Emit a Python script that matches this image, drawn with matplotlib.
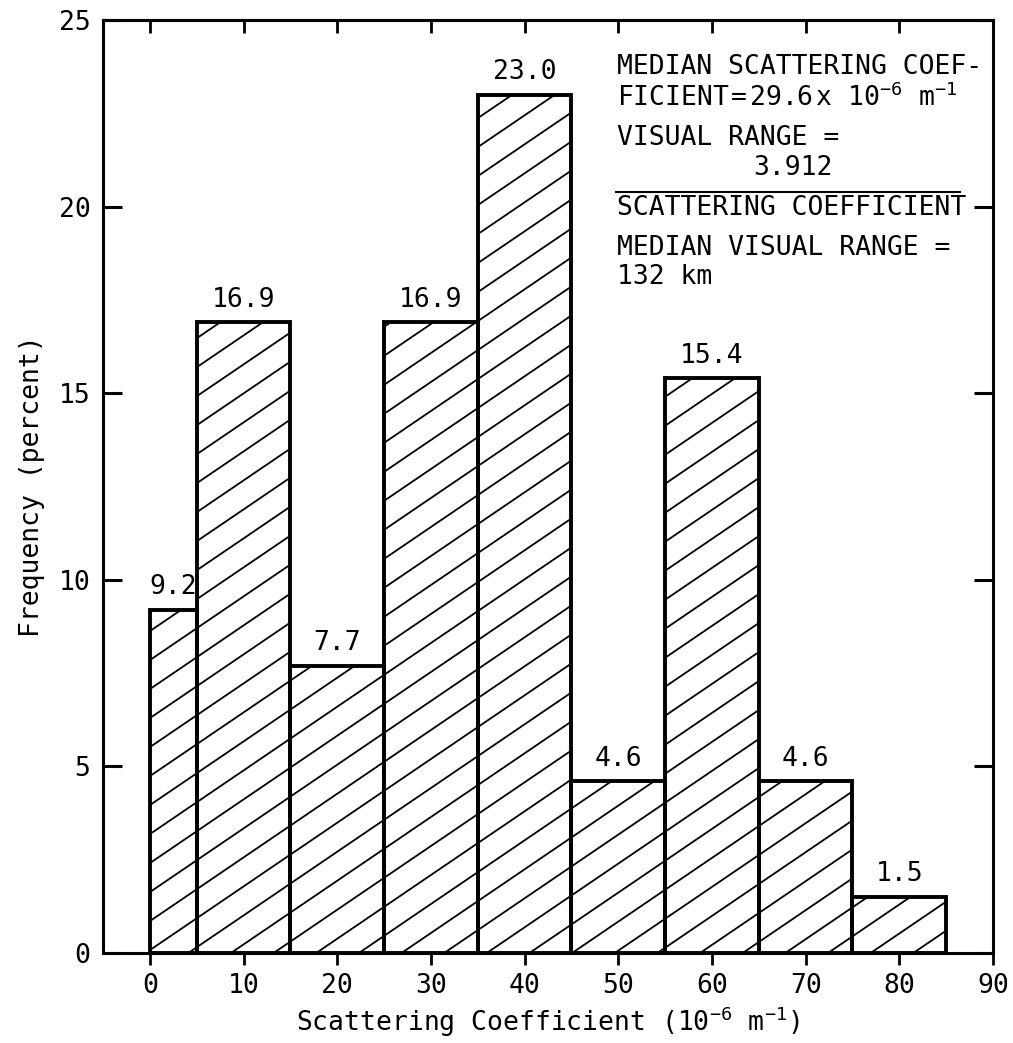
import matplotlib
matplotlib.use('Agg')
import matplotlib.pyplot as plt
from matplotlib.lines import Line2D

# histogram of scattering coefficient (10^-6 m-1)
bin_left = [0, 5, 15, 25, 35, 45, 55, 65, 75]
bin_width = [5, 10, 10, 10, 10, 10, 10, 10, 10]
freq = [9.2, 16.9, 7.7, 16.9, 23.0, 4.6, 15.4, 4.6, 1.5]
freq_labels = ['9.2', '16.9', '7.7', '16.9', '23.0', '4.6', '15.4', '4.6', '1.5']
x_ticks = [0, 10, 20, 30, 40, 50, 60, 70, 80, 90]
y_ticks = [0, 5, 10, 15, 20, 25]

plt.rcParams['font.family'] = 'DejaVu Sans Mono'
plt.rcParams['font.size'] = 19
plt.rcParams['mathtext.fontset'] = 'custom'
plt.rcParams['mathtext.rm'] = 'DejaVu Sans Mono'
plt.rcParams['mathtext.it'] = 'DejaVu Sans Mono'
plt.rcParams['mathtext.bf'] = 'DejaVu Sans Mono'

W, H = 1013, 1043
fig = plt.figure(figsize=(W / 100, H / 100), dpi=100)
ax_l, ax_r, ax_t, ax_b = 103, 993, 20, 953
ax = fig.add_axes([ax_l / W, 1 - ax_b / H, (ax_r - ax_l) / W, (ax_b - ax_t) / H])
ax_w, ax_h = ax_r - ax_l, ax_b - ax_t

bars = ax.bar(bin_left, freq, width=bin_width, align='edge', fill=False,
              edgecolor='black', linewidth=2.8, zorder=3)

# hatching: shallow diagonal lines clipped to each bar
slope = 0.68 * ax_w / ax_h
step = 29 / ax_h
for b in bars:
    for k in range(-60, 60):
        y0 = k * step
        ln = Line2D([0, 1], [y0, y0 + slope], transform=ax.transAxes,
                    color='black', linewidth=1.3, zorder=2)
        ax.add_line(ln)
        ln.set_clip_path(b)

ax.bar_label(bars, labels=freq_labels, padding=7, fontsize=19)

ax.set_xlim(-5, 90)
ax.set_ylim(0, 25)
ax.set_xticks(x_ticks)
ax.set_yticks(y_ticks)
for s in ax.spines.values():
    s.set_linewidth(2.2)
ax.tick_params(axis='x', direction='out', length=8.5, width=2, pad=6, labelsize=19)
ax.tick_params(axis='y', direction='in', length=14, width=2.2, pad=9,
               right=True, labelsize=19)

top = ax.secondary_xaxis('top')
top.set_xticks(x_ticks[:-1])
top.tick_params(direction='in', length=9, width=2, labeltop=False)
top.spines['top'].set_linewidth(2.2)

ax.set_xlabel('Scattering Coefficient (10$^{-6}$ m$^{-1}$)', fontsize=19, labelpad=4)
ax.set_ylabel('Frequency (percent)', fontsize=19, labelpad=10)


def px(x, y):
    return (x - ax_l) / ax_w, (ax_b - y) / ax_h


tx = px(617, 0)[0]
notes = [
    (67, 'MEDIAN SCATTERING COEF-'),
    (98, 'FICIENT$\\,$=$\\,$29.6$\\,$x 10$^{-6}$ m$^{-1}$'),
    (138, 'VISUAL RANGE ='),
    (208, 'SCATTERING COEFFICIENT'),
    (248, 'MEDIAN VISUAL RANGE ='),
    (277, '132 km'),
]
for y, s in notes:
    ax.text(tx, px(0, y)[1], s, transform=ax.transAxes, ha='left', va='center',
            fontsize=19)
ax.text(px(793, 0)[0], px(0, 168)[1], '3.912', transform=ax.transAxes,
        ha='center', va='center', fontsize=19)
ax.plot([px(616, 0)[0], px(960, 0)[0]], [px(0, 192)[1]] * 2,
        transform=ax.transAxes, color='black', linewidth=1.5)

fig.savefig('out.png', dpi=100)
